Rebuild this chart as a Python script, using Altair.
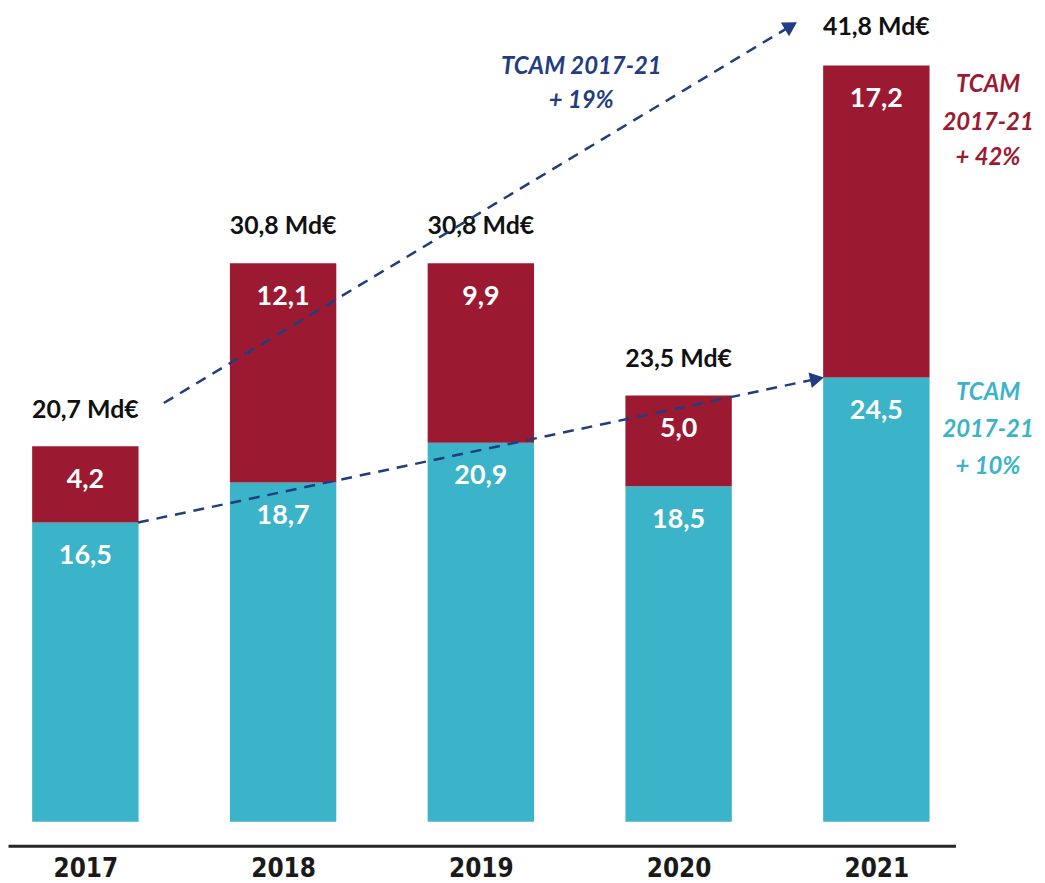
import altair as alt
import pandas as pd
import math

years = ["2017", "2018", "2019", "2020", "2021"]
teal_vals = [16.5, 18.7, 20.9, 18.5, 24.5]
red_vals = [4.2, 12.1, 9.9, 5.0, 17.2]
totals = [20.7, 30.8, 30.8, 23.5, 41.8]

TEAL = "#3bb3c9"
RED = "#9c1a31"
NAVY = "#1f3d80"
FONT = "Lato"

def fr(v):
    return f"{v:.1f}".replace(".", ",")

idx = list(range(len(years)))
rows = []
for i, y, t, r in zip(idx, years, teal_vals, red_vals):
    rows.append(dict(i=i, year=y, seg="teal", start=0.0, end=t, label=fr(t)))
    rows.append(dict(i=i, year=y, seg="red", start=t, end=t + r, label=fr(r)))
bars_df = pd.DataFrame(rows)
tot_df = pd.DataFrame(dict(i=idx, total=totals, label=[fr(v) + " Md€" for v in totals]))

# scales
W, H = 953, 840
XMIN, XMAX = -0.366, 4.375
YMIN, YMAX = -1.32, 44.73
PX_PER_X = W / (XMAX - XMIN)
PX_PER_Y = H / (YMAX - YMIN)
BAR_W = 107
half = (BAR_W / 2) / PX_PER_X

xs = alt.Scale(domain=[XMIN, XMAX], nice=False, zero=False)
ys = alt.Scale(domain=[YMIN, YMAX], nice=False, zero=False)

label_expr = "[" + ",".join(f"'{y}'" for y in years) + "][datum.value]"

base_x = alt.X("i:Q", scale=xs, axis=alt.Axis(
    values=idx, labelExpr=label_expr, title=None, ticks=False, grid=False,
    domainColor="#262626", domainWidth=3,
    labelFont="DejaVu Sans Condensed, Roboto Condensed, Roboto, sans-serif",
    labelFontWeight="bold", labelFontSize=26, labelColor="#1a1a1a",
    labelBaseline="alphabetic", labelPadding=31))

bars = alt.Chart(bars_df).mark_bar(size=BAR_W).encode(
    x=base_x,
    y=alt.Y("start:Q", scale=ys, axis=None),
    y2="end:Q",
    color=alt.Color("seg:N", scale=alt.Scale(domain=["teal", "red"], range=[TEAL, RED]), legend=None),
)

seg_text = alt.Chart(bars_df).mark_text(
    font=FONT, fontWeight="bold", fontSize=27, color="white", dy=34, baseline="middle"
).encode(x=alt.X("i:Q", scale=xs), y=alt.Y("end:Q", scale=ys), text="label:N")

tot_text = alt.Chart(tot_df).mark_text(
    font=FONT, fontWeight="bold", fontSize=25, color="#111111", dy=-37, baseline="middle"
).encode(x=alt.X("i:Q", scale=xs), y=alt.Y("total:Q", scale=ys), text="label:N")

# growth arrows (lower: teal series, upper: totals)
arrows = [
    dict(name="teal", x0=idx[0] + half, y0=teal_vals[0], x1=idx[-1] - half, y1=teal_vals[-1]),
    dict(name="total", x0=0.397, y0=23.09, x1=3.598, y1=44.08),
]
line_rows, head_rows = [], []
for a in arrows:
    dxp = (a["x1"] - a["x0"]) * PX_PER_X
    dyp = (a["y1"] - a["y0"]) * PX_PER_Y
    L = math.hypot(dxp, dyp)
    ang = math.degrees(math.atan2(-dyp, dxp)) % 360
    back = 7
    hx = a["x1"] - dxp / L * back / PX_PER_X
    hy = a["y1"] - dyp / L * back / PX_PER_Y
    ex = a["x1"] - dxp / L * 12 / PX_PER_X
    ey = a["y1"] - dyp / L * 12 / PX_PER_Y
    line_rows.append(dict(name=a["name"], o=0, x=a["x0"], y=a["y0"]))
    line_rows.append(dict(name=a["name"], o=1, x=ex, y=ey))
    head_rows.append(dict(name=a["name"], x=hx, y=hy, ang=(ang + 90) % 360))
line_df = pd.DataFrame(line_rows)
head_df = pd.DataFrame(head_rows)

arrow_lines = alt.Chart(line_df).mark_line(
    color=NAVY, strokeWidth=2.5, strokeDash=[11, 8]
).encode(x=alt.X("x:Q", scale=xs), y=alt.Y("y:Q", scale=ys), detail="name:N", order="o:Q")

arrow_heads = alt.Chart(head_df).mark_point(
    shape="triangle-up", filled=True, size=260, color=NAVY, opacity=1
).encode(x=alt.X("x:Q", scale=xs), y=alt.Y("y:Q", scale=ys), angle=alt.Angle("ang:Q", scale=None))

# TCAM annotations
ann = pd.DataFrame([
    dict(x=2.508, y=41.64, t="TCAM 2017-21", c=NAVY),
    dict(x=2.508, y=39.76, t="+ 19%", c=NAVY),
    dict(x=4.565, y=40.64, t="TCAM", c=RED),
    dict(x=4.565, y=38.54, t="2017-21", c=RED),
    dict(x=4.565, y=36.60, t="+ 42%", c=RED),
    dict(x=4.565, y=23.64, t="TCAM", c=TEAL),
    dict(x=4.565, y=21.59, t="2017-21", c=TEAL),
    dict(x=4.565, y=19.55, t="+ 10%", c=TEAL),
])
ann_text = alt.Chart(ann).mark_text(
    font=FONT, fontWeight="bold", fontStyle="italic", fontSize=24, baseline="middle"
).encode(x=alt.X("x:Q", scale=xs), y=alt.Y("y:Q", scale=ys), text="t:N",
         color=alt.Color("c:N", scale=None))

chart = alt.layer(bars, seg_text, tot_text, arrow_lines, arrow_heads, ann_text).properties(
    width=W, height=H,
    autosize=alt.AutoSizeParams(type="none"),
    padding={"left": 0, "top": 0, "right": 82, "bottom": 38},
).configure_view(stroke=None)

chart.save("out.html", embed_options={"renderer": "svg", "actions": False})
